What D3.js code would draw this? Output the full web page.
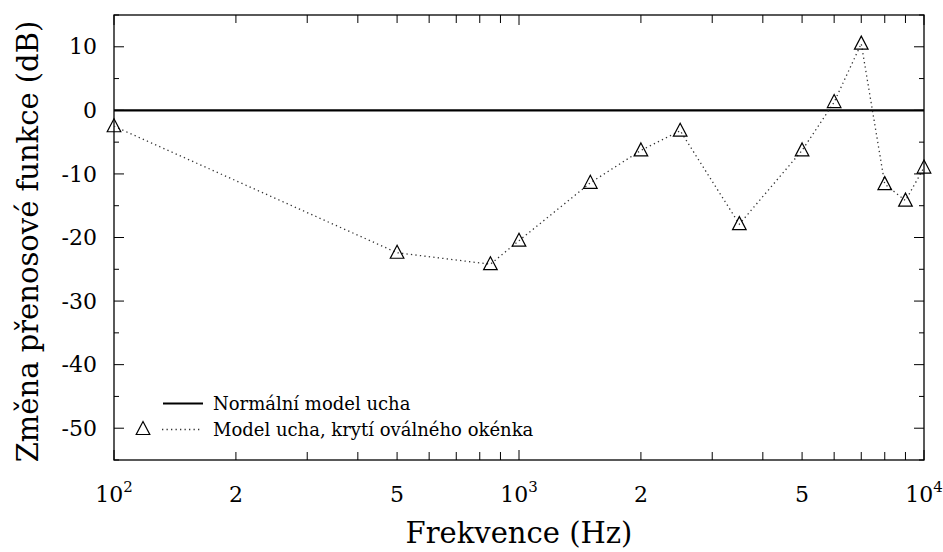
<!DOCTYPE html>
<html><head><meta charset="utf-8">
<script src="https://cdn.jsdelivr.net/npm/d3@7"></script>
<style>body{margin:0;background:#fff}svg{display:block}</style>
</head><body>
<script>
const freq = [100, 500, 850, 1000, 1500, 2000, 2500, 3500, 5000, 6000, 7000, 8000, 9000, 10000];
const change = [-2.5, -22.4, -24.2, -20.5, -11.4, -6.3, -3.2, -17.9, -6.3, 1.3, 10.5, -11.6, -14.2, -9.0];
const normalX = [100, 10000];
const normalY = [0, 0];
const yTicks = [10, 0, -10, -20, -30, -40, -50];
const yMinor = [15, 5, -5, -15, -25, -35, -45, -55];
const xMajor = [100, 1000, 10000];
const xMajorExp = ["2", "3", "4"];
const xLabeled = [200, 500, 2000, 5000];
const xLabeledText = ["2", "5", "2", "5"];
const seriesNames = ["Normální model ucha", "Model ucha, krytí oválného okénka"];
const xTitle = "Frekvence (Hz)";
const yTitle = "Změna přenosové funkce (dB)";

const FONT = "'DejaVu Serif', 'Liberation Serif', 'Noto Serif', serif";
const W = 943, H = 552;
const L = 114, R = 924, T = 15, B = 460;
const svg = d3.select("body").append("svg").attr("width", W).attr("height", H)
  .attr("font-family", FONT);
const x = d3.scaleLog().domain([100, 10000]).range([L, R]);
const y = d3.scaleLinear().domain([-55, 15]).range([B, T]);

const xMinor = [];
[100, 1000].forEach(d => { for (let k = 2; k <= 9; k++) xMinor.push(d * k); });

const g = svg.append("g");
g.append("rect").attr("x", L).attr("y", T).attr("width", R - L).attr("height", B - T)
  .attr("fill", "none").attr("stroke", "#000").attr("stroke-width", 1.3);

xMinor.concat(xMajor).forEach(v => {
  const len = xMajor.includes(v) ? 10 : 8;
  g.append("line").attr("x1", x(v)).attr("x2", x(v)).attr("y1", B).attr("y2", B - len).attr("stroke", "#000");
  g.append("line").attr("x1", x(v)).attr("x2", x(v)).attr("y1", T).attr("y2", T + len).attr("stroke", "#000");
});
yTicks.forEach(v => {
  g.append("line").attr("x1", L).attr("x2", L + 10).attr("y1", y(v)).attr("y2", y(v)).attr("stroke", "#000");
  g.append("line").attr("x1", R).attr("x2", R - 10).attr("y1", y(v)).attr("y2", y(v)).attr("stroke", "#000");
});
yMinor.forEach(v => {
  g.append("line").attr("x1", L).attr("x2", L + 5).attr("y1", y(v)).attr("y2", y(v)).attr("stroke", "#000");
  g.append("line").attr("x1", R).attr("x2", R - 5).attr("y1", y(v)).attr("y2", y(v)).attr("stroke", "#000");
});

yTicks.forEach(v => {
  g.append("text").attr("x", 97).attr("y", y(v)).attr("dy", "0.35em").attr("text-anchor", "end")
    .attr("font-size", 22).text(v === 0 ? "0" : (v < 0 ? "-" + Math.abs(v) : String(v)));
});
xMajor.forEach((v, i) => {
  const t = g.append("text").attr("x", x(v)).attr("y", 502).attr("text-anchor", "middle").attr("font-size", 22);
  t.append("tspan").text("10");
  t.append("tspan").attr("font-size", 15).attr("dy", -10).text(xMajorExp[i]);
});
xLabeled.forEach((v, i) => {
  g.append("text").attr("x", x(v)).attr("y", 502).attr("text-anchor", "middle").attr("font-size", 22).text(xLabeledText[i]);
});

svg.append("text").attr("x", (L + R) / 2).attr("y", 543).attr("text-anchor", "middle").attr("font-size", 29).text(xTitle);
svg.append("text").attr("transform", `translate(38,${(T + B) / 2 + 4}) rotate(-90)`).attr("text-anchor", "middle")
  .attr("font-size", 29).text(yTitle);

const line = d3.line().x(d => x(d[0])).y(d => y(d[1]));
g.append("path").datum(normalX.map((v, i) => [v, normalY[i]])).attr("d", line)
  .attr("fill", "none").attr("stroke", "#000").attr("stroke-width", 2.2);

const pts = freq.map((v, i) => [v, change[i]]);
g.append("path").datum(pts).attr("d", line).attr("fill", "none")
  .attr("stroke", "#333").attr("stroke-width", 1.3).attr("stroke-dasharray", "1.3,3.2");

const tri = d3.symbol().type({
  draw(ctx) { ctx.moveTo(0, -7.5); ctx.lineTo(6.8, 5.5); ctx.lineTo(-6.8, 5.5); ctx.closePath(); }
});
g.selectAll(".pt").data(pts).enter().append("path").attr("class", "pt")
  .attr("transform", d => `translate(${x(d[0])},${y(d[1])})`).attr("d", tri())
  .attr("fill", "none").attr("stroke", "#000").attr("stroke-width", 1.2);

const lg = svg.append("g");
lg.append("line").attr("x1", 163).attr("x2", 203).attr("y1", 403.5).attr("y2", 403.5).attr("stroke", "#000").attr("stroke-width", 2.2);
lg.append("text").attr("x", 213).attr("y", 404).attr("dy", "0.35em").attr("font-size", 18).text(seriesNames[0]);
lg.append("line").attr("x1", 162).attr("x2", 201).attr("y1", 429.5).attr("y2", 429.5).attr("stroke", "#333")
  .attr("stroke-width", 1.3).attr("stroke-dasharray", "1.3,3.2");
lg.append("path").attr("transform", "translate(143,429)").attr("d", tri()).attr("fill", "none").attr("stroke", "#000").attr("stroke-width", 1.2);
lg.append("text").attr("x", 213).attr("y", 430).attr("dy", "0.35em").attr("font-size", 18).text(seriesNames[1]);
</script>
</body></html>
